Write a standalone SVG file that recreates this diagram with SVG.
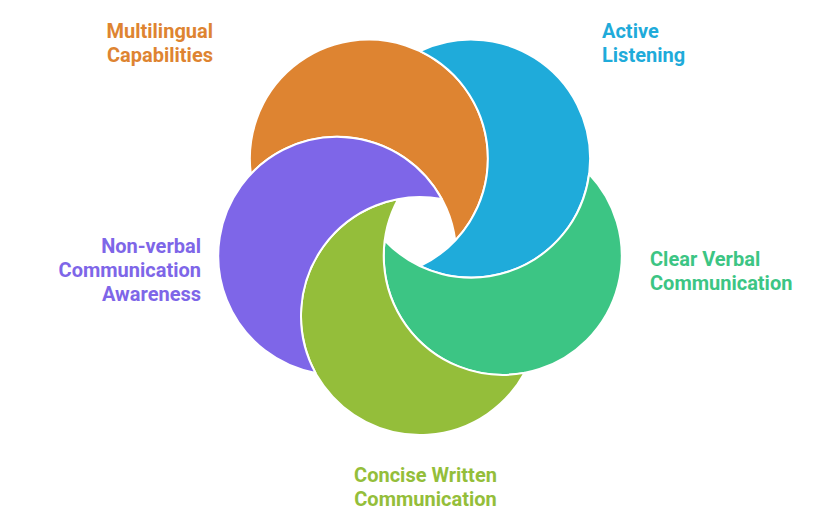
<svg xmlns="http://www.w3.org/2000/svg" width="840" height="532" viewBox="0 0 840 532">
  <style>
    .seg { stroke: #ffffff; stroke-width: 2; stroke-linejoin: round; }
    .lbl { font-family: Roboto, "Liberation Sans", Arial, sans-serif; font-weight: 700; font-size: 20px; }
  </style>
  <rect width="840" height="532" fill="#ffffff"/>
  <g id="node-multilingual">
    <path class="seg" fill="#DE8431" d="M250.87,174.05 A119,119 0 1 1 455.26,240.46 A119,119 0 0 0 250.87,174.05 Z"/>
    <text class="lbl" fill="#DE8431" text-anchor="end" x="213" y="37.5">Multilingual</text>
    <text class="lbl" fill="#DE8431" text-anchor="end" x="213" y="61.5">Capabilities</text>
  </g>
  <g id="node-active-listening">
    <path class="seg" fill="#1FABDA" d="M420,51.17 A119,119 0 1 1 420,266.07 A119,119 0 0 0 420,51.17 Z"/>
    <text class="lbl" fill="#1FABDA" x="602" y="37.5">Active</text>
    <text class="lbl" fill="#1FABDA" x="602" y="61.5">Listening</text>
  </g>
  <g id="node-clear-verbal">
    <path class="seg" fill="#3CC584" d="M589.13,174.05 A119,119 0 1 1 384.74,240.46 A119,119 0 0 0 589.13,174.05 Z"/>
    <text class="lbl" fill="#3CC584" x="650" y="265.5">Clear Verbal</text>
    <text class="lbl" fill="#3CC584" x="650" y="289.5">Communication</text>
  </g>
  <g id="node-concise-written">
    <path class="seg" fill="#94BE3A" d="M524.52,372.87 A119,119 0 1 1 398.21,199.01 A119,119 0 0 0 524.52,372.87 Z"/>
    <text class="lbl" fill="#94BE3A" text-anchor="middle" x="425.5" y="481.5">Concise Written</text>
    <text class="lbl" fill="#94BE3A" text-anchor="middle" x="425.5" y="505.5">Communication</text>
  </g>
  <g id="node-nonverbal">
    <path class="seg" fill="#7E66E8" d="M315.48,372.87 A119,119 0 1 1 441.79,199.01 A119,119 0 0 0 315.48,372.87 Z"/>
    <text class="lbl" fill="#7E66E8" text-anchor="end" x="201" y="253">Non-verbal</text>
    <text class="lbl" fill="#7E66E8" text-anchor="end" x="201" y="277">Communication</text>
    <text class="lbl" fill="#7E66E8" text-anchor="end" x="201" y="301">Awareness</text>
  </g>
  <g id="connectors"></g>
</svg>
